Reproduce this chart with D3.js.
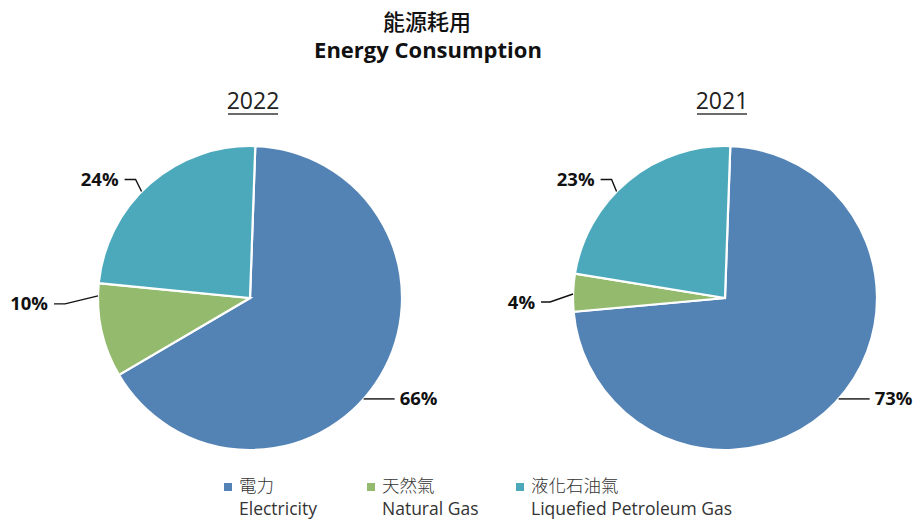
<!DOCTYPE html>
<html>
<head>
<meta charset="utf-8">
<script src="https://cdn.jsdelivr.net/npm/d3@7"></script>
<style>
  body { margin: 0; background: #fff; }
  svg { display: block; }
  text { font-family: "Open Sans", "Noto Sans CJK TC", sans-serif; }
</style>
</head>
<body>
<svg id="chart"></svg>
<script>
// data
const categoriesZh = ['電力', '天然氣', '液化石油氣'];
const categoriesEn = ['Electricity', 'Natural Gas', 'Liquefied Petroleum Gas'];
const years = ['2022', '2021'];
const values2022 = [66, 10, 24];
const values2021 = [73, 4, 23];
const colors = ['#5383b4', '#94ba6e', '#4ca9bc'];

const width = 914, height = 520;
const svg = d3.select('#chart').attr('width', width).attr('height', height);

// title
svg.append('text').attr('x', 427).attr('y', 30).attr('text-anchor', 'middle')
  .style('font-family', '"Noto Sans CJK TC", sans-serif')
  .style('font-size', '22px').style('font-weight', 500).attr('fill', '#111')
  .text('能源耗用');
svg.append('text').attr('x', 428).attr('y', 58).attr('text-anchor', 'middle')
  .style('font-size', '22px').style('font-weight', 700).attr('fill', '#111')
  .text('Energy Consumption');

const radius = 152;
const pie = d3.pie().sort(null).value(d => d)
  .startAngle(2 * Math.PI / 180).endAngle(2 * Math.PI + 2 * Math.PI / 180);
const arc = d3.arc().innerRadius(0).outerRadius(radius);

// leader layout: angle where the line touches the pie (deg), elbow offset, horizontal length
const leaders = [
  [{ a: 131.6, dx: 0, dy: 0, h: 31 }, { a: 270.8, dx: -33, dy: 8, h: 11 }, { a: 314.5, dx: -6, dy: -12, h: 11 }],
  [{ a: 131.6, dx: 0, dy: 0, h: 31 }, { a: 271.5, dx: -23, dy: 8, h: 9 }, { a: 314.5, dx: -5, dy: -12, h: 11 }]
];

const charts = [
  { year: years[0], values: values2022, cx: 250, cy: 298, yearX: 253 },
  { year: years[1], values: values2021, cx: 725, cy: 298, yearX: 722 }
];

charts.forEach((c, ci) => {
  const g = svg.append('g').attr('transform', `translate(${c.cx},${c.cy})`);

  g.selectAll('path.slice').data(pie(c.values)).enter().append('path')
    .attr('class', 'slice')
    .attr('d', arc)
    .attr('fill', (d, i) => colors[i])
    .attr('stroke', '#fff').attr('stroke-width', 2.2);

  // year label with underline
  svg.append('text').attr('x', c.yearX).attr('y', 109).attr('text-anchor', 'middle')
    .style('font-size', '23px').attr('fill', '#222').text(c.year);
  svg.append('line').attr('x1', c.yearX - 25).attr('x2', c.yearX + 25)
    .attr('y1', 114).attr('y2', 114).attr('stroke', '#6b6b6b').attr('stroke-width', 2);

  // percentage labels with leader lines
  c.values.forEach((v, i) => {
    const L = leaders[ci][i];
    const ang = L.a * Math.PI / 180;
    const px = Math.sin(ang) * radius, py = -Math.cos(ang) * radius;
    const right = Math.sin(ang) > 0;
    const ex = px + L.dx, ey = py + L.dy;
    const hx = right ? ex + L.h : ex - L.h;
    g.append('polyline')
      .attr('points', [[px, py], [ex, ey], [hx, ey]].map(p => p.join(',')).join(' '))
      .attr('fill', 'none').attr('stroke', '#111').attr('stroke-width', 1.4);
    g.append('text')
      .attr('x', right ? hx + 5 : hx - 6).attr('y', ey + 6.5)
      .attr('text-anchor', right ? 'start' : 'end')
      .style('font-size', '18.5px').style('font-weight', 700).attr('fill', '#111')
      .text(v + '%');
  });
});

// legend
const legendX = [224, 367, 516];
const lg = svg.selectAll('g.legend').data(categoriesZh).enter().append('g')
  .attr('class', 'legend')
  .attr('transform', (d, i) => `translate(${legendX[i]},0)`);
lg.append('rect').attr('x', 0).attr('y', 483).attr('width', 8).attr('height', 8)
  .attr('fill', (d, i) => colors[i]);
lg.append('text').attr('x', 15).attr('y', 492)
  .style('font-family', '"Noto Sans CJK TC", sans-serif')
  .style('font-size', '17.5px').style('font-weight', 300).attr('fill', '#333')
  .text(d => d);
lg.append('text').attr('x', 15).attr('y', 514.5)
  .style('font-size', '17.5px').attr('fill', '#333')
  .text((d, i) => categoriesEn[i]);
</script>
</body>
</html>
